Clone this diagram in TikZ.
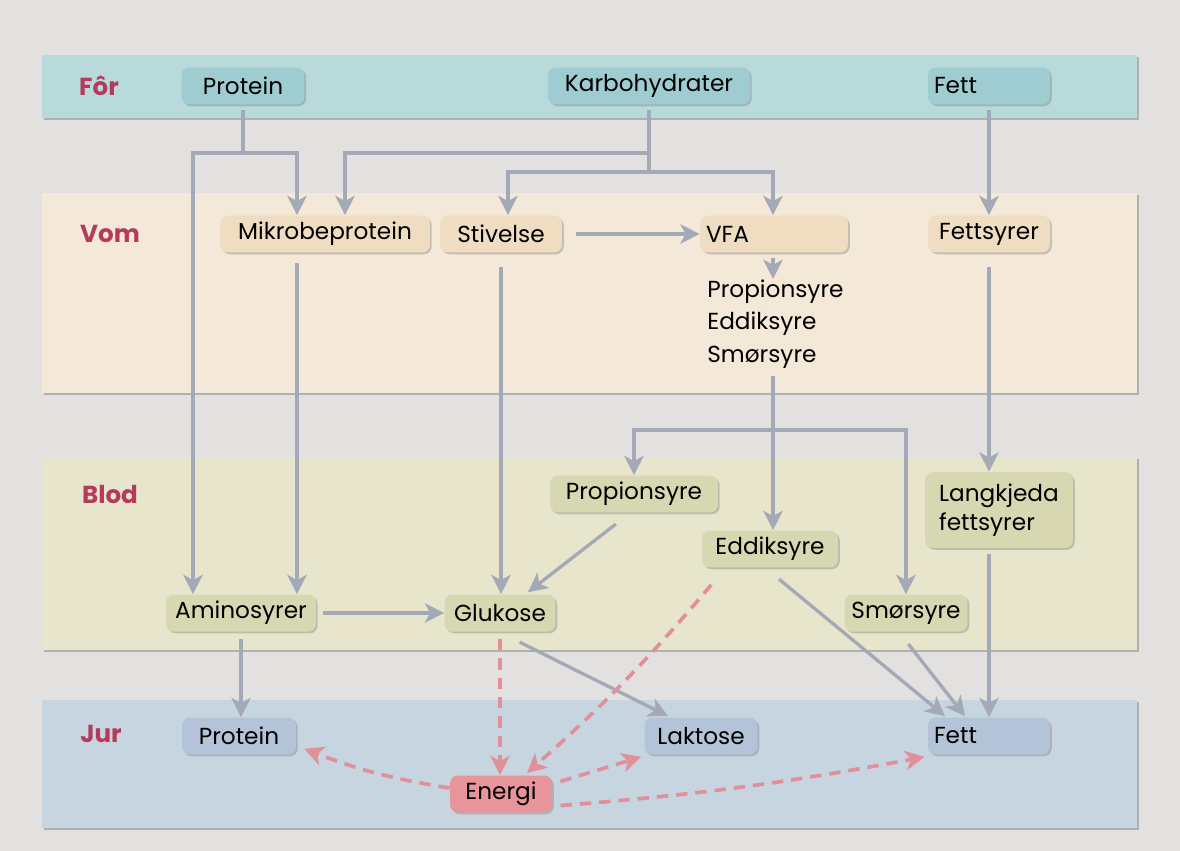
\documentclass[tikz,border=0pt]{standalone}
\usepackage{fontspec}
\setmainfont{Poppins}
\usetikzlibrary{arrows.meta,shadows}
\definecolor{bg}{HTML}{E3E1DF}
\definecolor{forband}{HTML}{B8DADB}
\definecolor{forbox}{HTML}{9ECCD0}
\definecolor{vomband}{HTML}{F4E8D8}
\definecolor{vombox}{HTML}{EEDDC0}
\definecolor{blodband}{HTML}{E7E6CD}
\definecolor{blodbox}{HTML}{D7D8B2}
\definecolor{jurband}{HTML}{C7D5E1}
\definecolor{jurbox}{HTML}{B3C4D8}
\definecolor{energibox}{HTML}{E8949B}
\definecolor{labred}{HTML}{B53A5C}
\definecolor{flowgray}{HTML}{A3A9B6}
\definecolor{flowpink}{HTML}{E1909A}
\begin{document}
\begin{tikzpicture}[x=0.02cm,y=-0.02cm,
    band/.style={drop shadow={shadow xshift=1.2pt,shadow yshift=-1.2pt,opacity=0.5}},
    box/.style={rounded corners=4.5pt,minimum height=0.74cm,inner sep=0.12cm,
      font=\fontsize{13.2}{16.5}\selectfont,
      drop shadow={shadow xshift=1pt,shadow yshift=-1pt,opacity=0.4}},
    lab/.style={text=labred,font=\fontsize{14}{16}\selectfont\bfseries},
    flow/.style={draw=flowgray,line width=1.9pt},
    arr/.style={flow,-{Stealth[length=11pt,width=11pt,inset=3pt]},shorten <=3pt},
    energy/.style={draw=flowpink,line width=2.1pt,dash pattern=on 6.5pt off 4.5pt,
      -{Stealth[length=11pt,width=11pt,inset=3pt]},shorten <=3pt}]
  \useasboundingbox (0,0) rectangle (1180,851);
  \fill[bg] (0,0) rectangle (1180,851);

  % bands
  \fill[forband,band] (42,55) rectangle (1137,118);
  \fill[vomband,band] (42,193) rectangle (1137,393);
  \fill[blodband,band] (42,457) rectangle (1137,650);
  \fill[jurband,band] (42,700) rectangle (1137,828);

  \node[lab] (lfor) at (99,86) {Fôr};
  \node[lab] (lvom) at (110,234) {Vom};
  \node[lab] (lblod) at (110,494) {Blod};
  \node[lab] (ljur) at (101,734) {Jur};

  % foer
  \node[box,fill=forbox,minimum width=2.46cm] (pf) at (243,86) {Protein};
  \node[box,fill=forbox,minimum width=4.04cm] (kh) at (649,86) {Karbohydrater};
  \node[box,fill=forbox,text width=2.2cm,align=left] (ff) at (989,86) {Fett};

  % vom
  \node[box,fill=vombox,minimum width=4.2cm] (mik) at (325,234) {Mikrobeprotein};
  \node[box,fill=vombox,minimum width=2.44cm] (stv) at (501,234) {Stivelse};
  \node[box,fill=vombox,text width=2.72cm,align=left] (vfa) at (774,234) {VFA};
  \node[box,fill=vombox,minimum width=2.44cm] (fs) at (989,234) {Fettsyrer};
  \node[align=left,anchor=north west,inner sep=0pt,font=\fontsize{13.2}{18.7}\selectfont]
    (vfal) at (707,279) {Propionsyre\\Eddiksyre\\Smørsyre};

  % blod
  \node[box,fill=blodbox,minimum width=3.36cm] (pro) at (634,494) {Propionsyre};
  \node[box,fill=blodbox,minimum width=2.72cm] (edd) at (770,549) {Eddiksyre};
  \node[box,fill=blodbox,minimum width=2.96cm,minimum height=1.52cm,align=left] (lk) at (999,510) {Langkjeda\\fettsyrer};
  \node[box,fill=blodbox,minimum width=3.0cm] (ami) at (241,613) {Aminosyrer};
  \node[box,fill=blodbox,minimum width=2.22cm] (glu) at (500,613) {Glukose};
  \node[box,fill=blodbox,minimum width=2.46cm] (smo) at (906,613) {Smørsyre};

  % jur
  \node[box,fill=jurbox,minimum width=2.28cm] (pj) at (239,736) {Protein};
  \node[box,fill=jurbox,minimum width=2.26cm] (lak) at (701,736) {Laktose};
  \node[box,fill=jurbox,text width=2.2cm,align=left] (fj) at (989,736) {Fett};
  \node[box,fill=energibox,minimum width=2.04cm] (en) at (501,794) {Energi};

  % split points
  \coordinate (psplit) at (243,153);
  \coordinate (pL) at (193,153);
  \coordinate (pR) at (297,153);
  \coordinate (kA) at (649,153);
  \coordinate (kM) at (345,153);
  \coordinate (kB) at (649,172);
  \coordinate (kS) at (508,172);
  \coordinate (kV) at (773,172);
  \coordinate (sA) at (773,430);
  \coordinate (sP) at (634,430);
  \coordinate (sS) at (906,430);

  % gray flows
  \draw[flow,shorten <=3pt] (pf.south) -- (psplit);
  \draw[arr,shorten <=0pt] (psplit) -- (pL) -- (pL |- ami.north);
  \draw[arr,shorten <=0pt] (psplit) -- (pR) -- (pR |- mik.north);
  \draw[flow,shorten <=3pt] (kh.south) -- (kB);
  \draw[arr,shorten <=0pt] (kA) -- (kM) -- (kM |- mik.north);
  \draw[arr,shorten <=0pt] (kB) -- (kS) -- (kS |- stv.north);
  \draw[arr,shorten <=0pt] (kB) -- (kV) -- (kV |- vfa.north);
  \draw[arr] (ff.south) -- (fs.north);
  \draw[arr,shorten <=8pt] (stv.east) -- (vfa.west);
  \draw[arr] (vfa.south -| kV) -- (vfal.north -| kV);
  \draw[arr,shorten <=6pt] (mik.south -| pR) -- (ami.north -| pR);
  \draw[arr,shorten <=8pt] (stv.south) -- (stv.south |- glu.north);
  \draw[flow,shorten <=4pt] (vfal.south -| sA) -- (sA);
  \draw[arr,shorten <=0pt] (sA) -- (sP) -- (sP |- pro.north);
  \draw[arr,shorten <=0pt] (sA) -- (sA |- edd.north);
  \draw[arr,shorten <=0pt] (sA) -- (sS) -- (sS |- smo.north);
  \draw[arr,shorten <=8pt] (fs.south) -- (fs.south |- lk.north);
  \draw[arr] ([shift={(-14,8)}]pro.south) -- ([shift={(28,-2)}]glu.north);
  \draw[arr,shorten <=4pt] (ami.east) -- (glu.west);
  \draw[arr,shorten <=4pt] (ami.south) -- (ami.south |- pj.north);
  \draw[arr] ([shift={(15,8)}]glu.south) -- ([shift={(-33,-1)}]lak.north);
  \draw[arr] ([shift={(5,8)}]edd.south) -- ([shift={(-44,-1)}]fj.north);
  \draw[arr] ([shift={(-1,8)}]smo.south) -- ([shift={(-24,-1)}]fj.north);
  \draw[arr] (lk.south -| fj.north) -- (fj.north);

  % energy
  \draw[energy,shorten <=4pt] (glu.south) -- (glu.south |- en.north);
  \draw[energy] ([shift={(13,13)}]edd.south west) to[bend left=4] ([shift={(26,-2)}]en.north);
  \draw[energy,shorten <=0pt] ([shift={(0,-6)}]en.west) to[bend left=6] ([shift={(8,-6)}]pj.south east);
  \draw[energy] ([shift={(3,-11)}]en.east) -- ([shift={(-3,2)}]lak.south west);
  \draw[energy] ([shift={(3,12)}]en.east) to[bend right=3] ([shift={(-3,2)}]fj.south west);
\end{tikzpicture}
\end{document}
